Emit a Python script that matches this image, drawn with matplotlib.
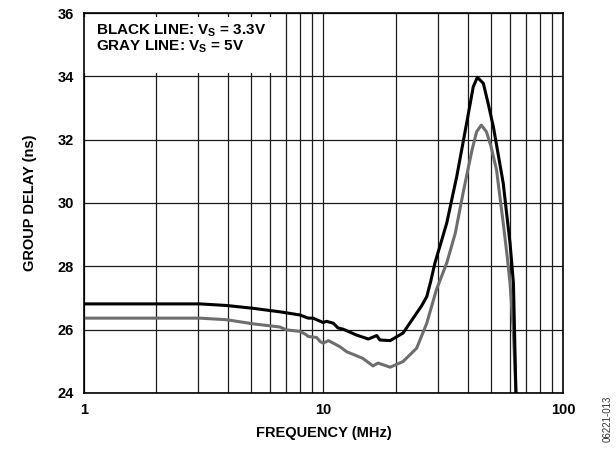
import numpy as np
import matplotlib
matplotlib.use('Agg')
import matplotlib.pyplot as plt
from matplotlib.patches import Rectangle

plt.rcParams['font.family'] = ['Liberation Sans', 'DejaVu Sans']
plt.rcParams['font.weight'] = 'bold'
plt.rcParams['mathtext.fontset'] = 'custom'
plt.rcParams['mathtext.bf'] = 'Liberation Sans:bold'
plt.rcParams['mathtext.rm'] = 'Liberation Sans:bold'

# black line, Vs = 3.3V
freq_black = [1.0, 2.0, 3.05, 3.94, 5.09, 6.58, 7.98, 8.64, 9.06, 9.98, 10.3, 11.0, 11.5,
              12.1, 13.7, 15.4, 16.7, 17.2, 19.0, 21.5, 24.5, 25.7, 27.0, 28.0, 29.2, 32.7, 36.0,
              39.6, 42.2, 43.9, 46.5, 48.5, 51.2, 56.3, 58.0, 60.1, 62.1, 63.6]
gd_black = [26.81, 26.81, 26.81, 26.76, 26.67, 26.56, 26.46, 26.36, 26.36, 26.22, 26.26, 26.20, 26.05,
            26.01, 25.83, 25.70, 25.81, 25.67, 25.65, 25.89, 26.52, 26.75, 27.04, 27.5, 28.10, 29.36, 30.83,
            32.52, 33.67, 33.97, 33.78, 33.2, 32.41, 30.62, 29.75, 28.73, 27.46, 24.0]

# gray line, Vs = 5V
freq_gray = [1.0, 2.0, 3.05, 3.94, 5.09, 6.58, 7.0, 8.0, 8.5, 8.64, 9.36, 9.7, 9.98, 10.5,
             11.7, 12.5, 14.6, 16.1, 16.9, 19.0, 21.5, 24.5, 27.0, 29.6, 32.7, 35.5,
             38.5, 41.7, 43.6, 45.6, 47.9, 50.0, 52.8, 56.3, 58.5, 60.1, 62.1, 63.6]
gd_gray = [26.36, 26.36, 26.36, 26.31, 26.18, 26.08, 25.99, 25.94, 25.83, 25.78, 25.75, 25.62, 25.57, 25.65,
           25.46, 25.30, 25.09, 24.85, 24.94, 24.81, 24.99, 25.41, 26.20, 27.25, 28.10, 29.04,
           30.41, 31.67, 32.25, 32.46, 32.25, 31.8, 31.04, 29.36, 28.3, 27.46, 25.89, 24.0]

yticks = [24, 26, 28, 30, 32, 34, 36]

fig = plt.figure(figsize=(6.16, 4.51), dpi=100)
ax = fig.add_axes([0.136, 0.129, 0.778, 0.842])

ax.set_xscale('log')
ax.set_xlim(1, 100)
ax.set_ylim(24, 36)

# grid
for d in [1, 10]:
    for m in range(1, 10):
        ax.axvline(d * m, color='#1a1a1a', lw=0.9, zorder=1)
for y in yticks:
    ax.axhline(y, color='#1a1a1a', lw=0.9, zorder=1)

# white box behind the legend text
ax.add_patch(Rectangle((1, 34.12), 5.5, 1.76, facecolor='white', edgecolor='none', zorder=2))

ax.plot(freq_gray, gd_gray, color='#6e6e6e', lw=2.2, zorder=3, solid_joinstyle='round')
ax.plot(freq_black, gd_black, color='black', lw=2.2, zorder=4, solid_joinstyle='round')

ax.text(1.13, 35.45, 'BLACK LINE: V$_\\mathbf{S}$ = 3.3V', fontsize=11, fontweight='bold',
        va='center', ha='left', zorder=5)
ax.text(1.13, 34.93, 'GRAY LINE: V$_\\mathbf{S}$ = 5V', fontsize=11, fontweight='bold',
        va='center', ha='left', zorder=5)

ax.set_xticks([1, 10, 100])
ax.set_xticklabels(['1', '10', '100'])
ax.set_xticks([], minor=True)
ax.set_yticks(yticks)
ax.tick_params(length=0, labelsize=10.5, pad=7)
for lab in ax.get_xticklabels() + ax.get_yticklabels():
    lab.set_fontweight('bold')

for s in ax.spines.values():
    s.set_linewidth(1.2)
    s.set_zorder(6)

ax.set_xlabel('FREQUENCY (MHz)', fontsize=10.5, fontweight='bold', labelpad=7)
ax.set_ylabel('GROUP DELAY (ns)', fontsize=10.5, fontweight='bold', labelpad=15)

fig.text(0.987, 0.071, '06221-013', rotation=90, fontsize=7, color='#333333',
         ha='center', va='center', fontweight='normal')

fig.savefig('out.png', dpi=100)
